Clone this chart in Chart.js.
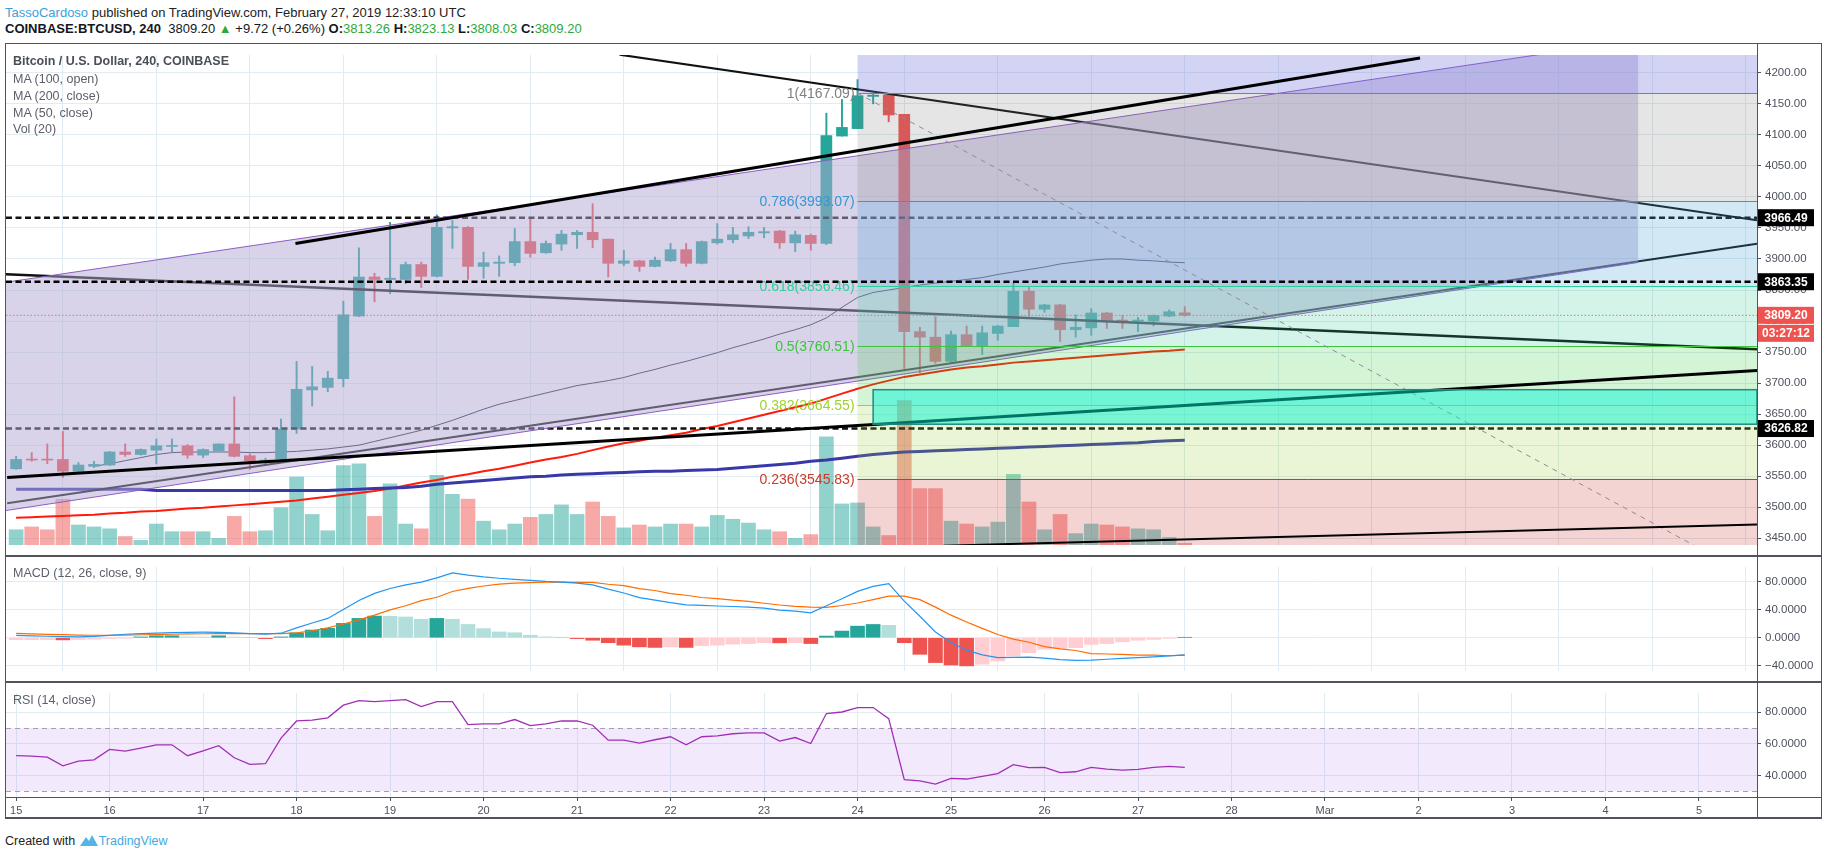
<!DOCTYPE html>
<html>
<head>
<meta charset="utf-8">
<script src="https://cdn.jsdelivr.net/npm/chart.js@4.4.1/dist/chart.umd.min.js"></script>
<style>
  body { margin: 0; background: #fff; width: 1828px; height: 861px; overflow: hidden; position: relative;
         font-family: 'Liberation Sans Narrow', 'Liberation Sans', Arial, sans-serif; color: #131722; }
  canvas { position: absolute; left: 0; }
  .t { position: absolute; white-space: nowrap; }
  .ln { position: absolute; background: #50535e; }
  .g { color: #2fa83a; }
  .b { font-weight: bold; }
  .leg { position: absolute; left: 13px; font-size: 12.5px; color: #5d606b; white-space: nowrap; }
</style>
</head>
<body>
<canvas id="cMain" width="1821" height="512" style="top:44px"></canvas>
<canvas id="cMacd" width="1821" height="126" style="top:556px"></canvas>
<canvas id="cRsi" width="1821" height="136" style="top:682px"></canvas>

<div class="t" style="left:5px;top:5px;font-size:13px;color:#222">
  <span style="color:#3b9fdc">TassoCardoso</span> published on TradingView.com, February 27, 2019 12:33:10 UTC
</div>
<div class="t" style="left:5px;top:21px;font-size:13px;color:#131722">
  <span class="b">COINBASE:BTCUSD, 240</span>&nbsp; 3809.20 <span class="g">&#9650;</span> +9.72 (+0.26%)
  <span class="b">O:</span><span class="g">3813.26</span>&nbsp;<span class="b">H:</span><span class="g">3823.13</span>&nbsp;<span class="b">L:</span><span class="g">3808.03</span>&nbsp;<span class="b">C:</span><span class="g">3809.20</span>
</div>

<div class="leg" style="top:53.5px;font-weight:bold;color:#4a4e59">Bitcoin / U.S. Dollar, 240, COINBASE</div>
<div class="leg" style="top:71.5px">MA (100, open)</div>
<div class="leg" style="top:88.5px">MA (200, close)</div>
<div class="leg" style="top:105.5px">MA (50, close)</div>
<div class="leg" style="top:122px">Vol (20)</div>
<div class="leg" style="top:566px">MACD (12, 26, close, 9)</div>
<div class="leg" style="top:692.5px">RSI (14, close)</div>

<div class="t" style="left:5px;top:834px;font-size:12.5px;color:#222">Created with
  <svg width="20" height="13" viewBox="0 0 20 13" style="vertical-align:-2px"><path d="M1 12 L7 3 L10 7 L13 1 L19 12 Z" fill="#52b6e8"/></svg><span style="color:#3fa9e0">TradingView</span>
</div>

<!-- frame -->
<div class="ln" style="left:5px;top:43px;width:1816px;height:1px"></div>
<div class="ln" style="left:5px;top:43px;width:1px;height:776px"></div>
<div class="ln" style="left:1757px;top:43px;width:1px;height:776px"></div>
<div class="ln" style="left:1821px;top:43px;width:1px;height:776px"></div>
<div class="ln" style="left:5px;top:555px;width:1816px;height:2px"></div>
<div class="ln" style="left:5px;top:681px;width:1816px;height:2px"></div>
<div class="ln" style="left:5px;top:797px;width:1816px;height:1px"></div>
<div class="ln" style="left:5px;top:817px;width:1817px;height:2px"></div>

<script>
// 4h candles, BTCUSD Coinbase, from Feb 15 00:00 UTC (x axis is hours from that moment)
const openP = [3562,3577,3577,3577,3558,3566,3568,3589,3585,3592,3598,3599,3584,3591,3602,3583,3574,3578,3626,3689,
  3693,3707,3808,3871,3867,3867,3891,3872,3950,3951,3888,3893,3894,3928,3910,3924,3939,3943,3932,3893,
  3897,3888,3897,3915,3893,3926,3931,3937,3942,3945,3926,3938,3925,4098,4110,4162,4164,4133,3783,3774,
  3735,3778,3760.5,3780,3791,3848,3819,3826,3786,3789,3813,3801,3800,3800,3808,3813.26];
const highP = [3582,3588,3602,3622,3572,3574,3590,3602,3594,3610,3610,3601,3594,3602,3678,3586,3579,3642,3735,3727,
  3719,3832,3918,3877,3959,3895,3895,3971,3962,3952,3911,3905,3949,3965,3929,3946,3946,3989,3932,3914,
  3898,3903,3925,3925,3929,3957,3951,3952,3951,3946,3945,3940,4135,4157,4189,4165,4165,4133,3790,3807,
  3784,3792,3792,3793,3861,3854,3827,3827,3810,3820,3814,3809,3806,3810,3818,3823.13];
const lowP = [3561,3574,3570,3548,3555,3564,3567,3582,3584,3570,3589,3579,3580,3590,3581,3561,3568,3577,3619,3663,
  3686,3694,3807,3831,3844,3860,3854,3871,3917,3867,3869,3872,3889,3903,3909,3914,3917,3918,3871,3889,
  3880,3887,3896,3888,3892,3924,3926,3933,3934,3917,3912,3914,3923,4098,4110,4150,4121,3723,3717,3732,
  3733,3760,3746,3769,3791,3808,3814,3767,3774,3777,3788,3788,3783,3792,3807,3808.03];
const closeP = [3577,3576,3576,3558,3568,3569,3589,3585,3593,3599,3599.5,3584,3593,3602,3582,3575,3576,3626,3690,3694,
  3708,3810,3871,3867,3869,3891,3872,3951,3952,3888,3894,3895,3928,3909,3925,3940,3943,3931,3893,3897,
  3888,3898,3915,3893,3928,3932,3939,3943,3944,3926,3939,3925,4099,4112,4163,4164,4132,3783,3774,3735,
  3778,3760.5,3781,3792,3848,3819,3826,3786,3790,3813,3801,3800,3801,3809,3815,3809.20];
const volume = [800,950,800,2400,1050,950,850,450,250,1100,700,700,700,350,1500,700,750,1950,3550,1600,
  750,4150,4250,1500,3200,1100,850,3650,2650,2400,1250,800,1100,1450,1600,2100,1600,2250,1500,900,
  1050,950,1100,1100,950,1550,1350,1150,800,700,350,550,5650,2150,2200,950,500,7550,2950,2950,
  1250,1100,950,1200,3700,2250,800,1600,600,1100,1050,950,850,800,400,100];

const ma100open = [null,null,null,null,null,3566,3570,3575,3580,3585,3588,3589,3589,3589,3589,3588,3588,3589,3590,3592,
  3594,3597,3600,3606,3612,3618,3624,3632,3640,3649,3658,3666,3672,3678,3684,3690,3696,3700,3704,3709,
  3716,3722,3729,3735,3742,3749,3757,3764,3771,3779,3786,3794,3805,3822,3838,3846,3850,3854,3858,3861,
  3864,3867,3870,3875,3879,3883,3887,3892,3895,3898,3900,3900,3898,3897,3895,3894];
const ma200close = [3529,3529,3529,3529,3529,3529,3529,3529,3529,3527,3527,3527,3527,3527,3527,3527,3527,3527,3527,3527,
  3527,3528,3529,3530,3531,3532,3534,3537,3539,3541,3543,3545,3547,3549,3550,3552,3553,3554,3555,3556,
  3557,3558,3558,3559,3560,3561,3563,3565,3567,3569,3571,3574,3576,3579,3582,3585,3587,3589,3590,3591,
  3592,3593,3594,3595,3596,3597,3598,3599,3600,3601,3602,3603,3604,3606,3607,3608];
const ma50close = [3483,3484,3485,3486,3487,3488,3490,3491,3493,3494,3496,3498,3499,3501,3503,3505,3507,3509,3511,3514,
  3517,3520,3523,3526,3530,3535,3540,3544,3549,3553,3558,3562,3567,3572,3577,3581,3586,3592,3598,3603,
  3607,3612,3616,3620,3626,3631,3637,3643,3649,3655,3661,3667,3675,3683,3691,3698,3704,3710,3714,3718,
  3722,3725,3727,3730,3733,3735,3737,3739,3741,3743,3745,3747,3749,3751,3752,3754];

const macdLine = [3.5,2.8,2.2,1.5,1.2,2.0,3.5,5.0,6.0,6.7,7.2,7.6,7.9,7.8,7.0,5.8,5.2,6.5,14,21,
  27.5,40,53,63,70,75,79,85,92,89,86.5,84.5,83,81.5,80,79,77.5,75,69,63.6,
  56.9,53.4,49.8,46.7,45.9,45.1,44.4,43.6,42,39.3,37.7,35.3,45.5,55.3,65.9,73,76.9,52,30.6,8.3,
  -6.6,-17.6,-24.2,-28.2,-27.8,-27.4,-29,-30.9,-32.1,-31.7,-30.5,-29.3,-28.2,-27,-25.8,-24.2];
const signalLine = [6.3,5.6,4.9,4.4,3.8,3.6,3.6,3.9,4.3,4.6,5.0,5.4,5.7,5.9,6.0,5.9,5.8,5.8,7.0,10.0,
  14.1,19.6,25.5,32.2,39.6,45.5,52.7,57.5,65.7,70.1,73.5,76.2,77.5,78.2,78.8,78.9,78.7,78.5,76,74.1,
  69.8,67.1,62.7,60.4,57.2,55.6,53.4,51.8,49,46.5,44.6,43.5,43.1,45.8,49.4,54.1,59.2,59,54.1,43.5,
  32.1,22.3,13.3,4.7,-2,-6.3,-12.6,-15.7,-18.1,-22.4,-23,-23.5,-24.7,-24.7,-25.5,-24.7];
const macdHist = [-2.8,-2.7,-2.6,-3.0,-2.5,-2.0,-1.0,-0.3,1.2,2.8,2.9,1.2,1.0,2.8,1.0,0.2,-1.2,1.2,7.0,11.0,
  13.4,20.4,27.5,30.8,30.4,29.5,26.3,27.5,26.3,18.9,13.0,8.3,7.1,3.6,1.2,0.1,-1.2,-3.5,-7.0,-10.5,
  -12.9,-13.7,-12.9,-13.7,-11.3,-10.5,-9.0,-8.2,-7.0,-7.2,-6.9,-8.2,2.4,9.5,16.5,18.9,17.7,-7.0,-23.5,-35.2,
  -38.7,-39.9,-37.5,-32.9,-25.8,-21.1,-16.4,-15.2,-14.0,-9.3,-8.2,-5.8,-3.5,-2.3,-0.3,0.5];
const rsi14 = [52.5,52.2,51.6,46.1,49.1,49.9,56.5,55.4,57.3,59.4,59.4,52.5,55.6,58.8,51.2,47.0,47.4,63.6,74.5,75.0,
  76.5,84.5,87.4,86.8,87.4,88.0,83.6,86.8,86.8,72.2,72.7,72.7,75.4,71.6,72.7,74.5,74.5,71.8,62.3,62.3,
  60.5,62.6,64.5,59.4,64.5,65.1,66.4,67.0,67.0,61.7,64.0,60.2,79.2,80.2,83.0,83.0,76.0,37.3,36.5,34.5,
  38.1,37.7,39.4,41.1,46.8,44.9,45.1,41.7,42.3,45.1,44.0,43.4,43.8,45.1,45.7,45.1];

// candle open times, hours after Feb 15 00:00 (one bar every 4 hours)
const hours = openP.map((_, i) => i * 4);

const dayHours = [0,24,48,72,96,120,144,168,192,216,240,264,288,312,336,360,384,408,432];
const dayLabels = ['15','16','17','18','19','20','21','22','23','24','25','26','27','28','Mar','2','3','4','5'];
const priceTicks = [3450,3500,3550,3600,3650,3700,3750,3800,3850,3900,3950,4000,4050,4100,4150,4200];
const macdTicks = [80,40,0,-40];
const rsiTicks = [80,60,40];

// drawings: [hour, price] end points
const channelUpper = [[-2.6, 3862.5], [416.4, 4253]];
const channelLower = [[-2.6, 3494.7], [416.4, 3894.4]];
const resistanceLine = [[71.7, 3925.1], [360.4, 4223.8]];
const topDescLine = [[154.9, 4229.2], [446.9, 3962.2]];
const leftDescLine = [[-2.6, 3875.2], [446.9, 3754.7]];
const supportLine = [[-2.3, 3547.8], [446.9, 3720.3]];
const parallelLine = [[-2.3, 3506.6], [446.9, 3924.6]];
const bottomLine = [[238, 3438], [446.9, 3472.1]];
const fibTrend = [[216, 4167.09], [455.7, 3353.93]];
const levelsUnder = [3966.49, 3626.82];
const levelsOver = [3863.35];
const lastPrice = 3809.20;
const countdown = '03:27:12';
const fibStartHour = 216;
const fibRatios = [1.618, 1, 0.786, 0.618, 0.5, 0.382, 0.236, 0];
const fibPrices = [4669.6, 4167.09, 3993.07, 3856.46, 3760.51, 3664.55, 3545.83, 3353.93];
const boxHours = [220, 446.9];
const boxPrices = [3633.8, 3689.4];

const xMinHour = -2.6, xMaxHour = 446.9;
const FONT = "'Liberation Sans Narrow', 'Liberation Sans', Arial, sans-serif";
Chart.defaults.font.family = FONT;
Chart.defaults.animation = false;

const upC = '#26a69a', dnC = '#ef5350';
const isUp = closeP.map((c, i) => c >= openP[i]);
const candleCol = isUp.map(u => u ? upC : dnC);
const volCol = isUp.map(u => u ? 'rgba(38,166,154,0.5)' : 'rgba(239,83,80,0.5)');

const zoneFill = ['rgba(110,110,220,0.3)', 'rgba(118,118,118,0.19)', 'rgba(60,160,210,0.23)', 'rgba(40,200,150,0.2)',
  'rgba(40,200,50,0.2)', 'rgba(145,205,40,0.2)', 'rgba(200,35,35,0.2)'];
const fibLineCol = ['#3f51b5', '#808080', '#3796d5', '#2fcf9c', '#3ec43e', '#9ed22e', '#cc3a2a', '#808080'];

function xScale(showLabels) {
  return {
    type: 'linear', min: xMinHour, max: xMaxHour, offset: false,
    afterBuildTicks: s => { s.ticks = dayHours.map(v => ({ value: v })); },
    afterFit: s => { s.height = showLabels ? 21 : 0; },
    grid: { color: '#e1ecf2', drawTicks: showLabels, tickLength: 4, tickColor: '#50535e' },
    border: { display: false },
    ticks: { display: showLabels, autoSkip: false, maxRotation: 0, padding: 3, color: '#4c525e',
      font: { size: 11 }, callback: (v, i) => dayLabels[i] }
  };
}
function yScale(min, max, tickList, fmt) {
  return {
    position: 'right', min, max,
    afterBuildTicks: s => { s.ticks = tickList.map(v => ({ value: v })); },
    afterFit: s => { s.width = 64; },
    grid: { color: '#e1ecf2', tickLength: 4, tickColor: '#50535e' },
    border: { display: false },
    ticks: { color: '#4c525e', padding: 4, font: { size: 11.5 }, callback: fmt }
  };
}
const pts = arr => arr.map((v, i) => ({ x: hours[i], y: v }));
function seg(p, color, width, order, dash) {
  return { type: 'line', data: p.map(q => ({ x: q[0], y: q[1] })), borderColor: color, borderWidth: width,
    borderDash: dash || [], pointRadius: 0, order, yAxisID: 'y', tension: 0 };
}
const flat = (v, color, width, order, dash) => seg([[xMinHour, v], [xMaxHour, v]], color, width, order, dash);
const common = { responsive: false, events: [], layout: { padding: { left: 6, right: 0, top: 0, bottom: 0 } },
  plugins: { legend: { display: false }, tooltip: { enabled: false } } };

// draws the channel fill, fib zones and lines right after the dataset flagged with zonesAfter
const drawingsPlugin = {
  id: 'drawings',
  afterDatasetDraw(chart, args) {
    if (!chart.data.datasets[args.index].zonesAfter) return;
    const { ctx, chartArea: a, scales: { x, y } } = chart;
    const P = q => [x.getPixelForValue(q[0]), y.getPixelForValue(q[1])];
    ctx.save();
    ctx.beginPath(); ctx.rect(a.left, a.top, a.right - a.left, a.bottom - a.top); ctx.clip();
    // parallel channel
    const u0 = P(channelUpper[0]), u1 = P(channelUpper[1]), l0 = P(channelLower[0]), l1 = P(channelLower[1]);
    ctx.fillStyle = 'rgba(177,167,211,0.5)';
    ctx.beginPath(); ctx.moveTo(...u0); ctx.lineTo(...u1); ctx.lineTo(...l1); ctx.lineTo(...l0); ctx.closePath(); ctx.fill();
    ctx.strokeStyle = '#8e5cc4'; ctx.lineWidth = 1;
    ctx.beginPath(); ctx.moveTo(...u0); ctx.lineTo(...u1); ctx.moveTo(...l0); ctx.lineTo(...l1); ctx.stroke();
    // fib retracement
    const fx0 = x.getPixelForValue(fibStartHour), fx1 = a.right;
    for (let k = 0; k < fibPrices.length - 1; k++) {
      const ya = y.getPixelForValue(fibPrices[k]), yb = y.getPixelForValue(fibPrices[k + 1]);
      ctx.fillStyle = zoneFill[k];
      ctx.fillRect(fx0, ya, fx1 - fx0, yb - ya);
    }
    ctx.font = '14px ' + FONT; ctx.textAlign = 'right'; ctx.textBaseline = 'middle';
    for (let k = 1; k < fibPrices.length; k++) {
      const yy = Math.round(y.getPixelForValue(fibPrices[k])) + 0.5;
      ctx.strokeStyle = fibLineCol[k]; ctx.lineWidth = 1;
      ctx.beginPath(); ctx.moveTo(fx0, yy); ctx.lineTo(fx1, yy); ctx.stroke();
      ctx.fillStyle = fibLineCol[k];
      ctx.fillText(fibRatios[k] + '(' + fibPrices[k].toFixed(2) + ')', fx0 - 3, yy + 0.5);
    }
    ctx.restore();
  },
  afterDatasetsDraw(chart) {
    const { ctx, chartArea: a, scales: { x, y } } = chart;
    const bx0 = x.getPixelForValue(boxHours[0]), bx1 = x.getPixelForValue(boxHours[1]);
    const by0 = y.getPixelForValue(boxPrices[1]), by1 = y.getPixelForValue(boxPrices[0]);
    ctx.save();
    ctx.beginPath(); ctx.rect(a.left, a.top, a.right - a.left, a.bottom - a.top); ctx.clip();
    ctx.fillStyle = 'rgba(0,245,212,0.48)';
    ctx.fillRect(bx0, by0, bx1 - bx0, by1 - by0);
    ctx.strokeStyle = '#1d8a84'; ctx.lineWidth = 1.5;
    ctx.strokeRect(bx0, by0, bx1 - bx0, by1 - by0);
    ctx.restore();
  },
  afterDraw(chart) {
    const { ctx, chartArea: a, scales: { y } } = chart;
    ctx.save();
    ctx.font = 'bold 12px ' + FONT; ctx.textAlign = 'center'; ctx.textBaseline = 'middle';
    const tag = (v, bg, text, dy) => {
      const yy = y.getPixelForValue(v) + (dy || 0);
      ctx.fillStyle = bg; ctx.fillRect(a.right + 1, yy - 8.5, 56, 17);
      ctx.fillStyle = '#fff'; ctx.fillText(text, a.right + 29, yy + 0.5);
    };
    levelsUnder.concat(levelsOver).forEach(v => tag(v, '#000', v.toFixed(2)));
    tag(lastPrice, '#ef5350', lastPrice.toFixed(2));
    tag(lastPrice, '#ef5350', countdown, 18);
    ctx.restore();
  }
};

new Chart(document.getElementById('cMain'), {
  type: 'bar',
  data: {
    datasets: [
      { data: pts(volume), yAxisID: 'yv', backgroundColor: volCol, barThickness: 14, grouped: false, order: 20 },
      { type: 'line', data: pts(ma200close), borderColor: '#3838a8', borderWidth: 3, pointRadius: 0, yAxisID: 'y', order: 16 },
      { type: 'line', data: pts(ma50close), borderColor: '#ff1a0a', borderWidth: 2, pointRadius: 0, yAxisID: 'y', order: 16 },
      { type: 'line', data: pts(ma100open), borderColor: '#2a2a3c', borderWidth: 1, pointRadius: 0, yAxisID: 'y', order: 16 },
      { data: lowP.map((l, i) => ({ x: hours[i], y: [l, highP[i]] })), yAxisID: 'y', backgroundColor: candleCol,
        barThickness: 1.3, grouped: false, order: 13 },
      { data: openP.map((o, i) => ({ x: hours[i], y: [Math.min(o, closeP[i]), Math.max(o, closeP[i])] })), yAxisID: 'y',
        backgroundColor: candleCol, barThickness: 11, minBarLength: 1, grouped: false, order: 12 },
      flat(levelsUnder[0], '#111', 2.5, 10, [6, 3.5]),
      flat(levelsUnder[1], '#111', 2.5, 10, [6, 3.5]),
      seg(topDescLine, '#111', 2, 10),
      seg(leftDescLine, '#111', 2.5, 10),
      seg(parallelLine, '#111', 2, 10),
      { type: 'line', data: [{ x: xMinHour - 50, y: 3500 }], borderColor: 'transparent', pointRadius: 0, yAxisID: 'y',
        order: 8, zonesAfter: true },
      seg(fibTrend, '#8a8d96', 1, 6, [5, 5]),
      seg(resistanceLine, '#000', 3, 5),
      seg(supportLine, '#000', 3, 5),
      seg(bottomLine, '#000', 2, 5),
      flat(levelsOver[0], '#000', 2.5, 5, [6, 3.5]),
      flat(lastPrice, '#e57373', 1, 4, [1.5, 2])
    ]
  },
  options: Object.assign({}, common, {
    scales: {
      x: xScale(false),
      y: yScale(3439, 4228.8, priceTicks, v => v.toFixed(2)),
      yv: { display: false, min: 0, max: 25600 }
    }
  }),
  plugins: [drawingsPlugin]
});

const histCol = macdHist.map((v, i) => {
  const prev = i > 0 ? macdHist[i - 1] : v;
  if (v >= 0) return v >= prev ? '#26a69a' : '#b2dfdb';
  return v < prev ? '#ef5350' : '#ffcdd2';
});
new Chart(document.getElementById('cMacd'), {
  type: 'bar',
  data: {
    datasets: [
      { data: pts(macdHist), backgroundColor: histCol, barThickness: 14, grouped: false, order: 3 },
      { type: 'line', data: pts(signalLine), borderColor: '#ff6d00', borderWidth: 1.2, pointRadius: 0, order: 2 },
      { type: 'line', data: pts(macdLine), borderColor: '#2196f3', borderWidth: 1.2, pointRadius: 0, order: 1 }
    ]
  },
  options: Object.assign({}, common, {
    scales: { x: xScale(false), y: yScale(-47.3, 100.6, macdTicks, v => v.toFixed(4).replace('-', '\u2212')) }
  })
});

const rsiBand = {
  id: 'rsiBand',
  beforeDatasetsDraw(chart) {
    const { ctx, chartArea: a, scales: { y } } = chart;
    const y70 = y.getPixelForValue(70), y30 = y.getPixelForValue(30);
    ctx.save();
    ctx.fillStyle = 'rgba(156,90,235,0.13)';
    ctx.fillRect(a.left, y70, a.right - a.left, y30 - y70);
    ctx.strokeStyle = '#aa9cb8'; ctx.lineWidth = 1; ctx.setLineDash([5, 4]);
    [y70, y30].forEach(yy => { ctx.beginPath(); ctx.moveTo(a.left, Math.round(yy) + 0.5); ctx.lineTo(a.right, Math.round(yy) + 0.5); ctx.stroke(); });
    ctx.restore();
  }
};
new Chart(document.getElementById('cRsi'), {
  type: 'line',
  data: { datasets: [{ data: pts(rsi14), borderColor: '#a02fb5', borderWidth: 1.3, pointRadius: 0, tension: 0 }] },
  options: Object.assign({}, common, {
    scales: { x: xScale(true), y: yScale(26.3, 92.3, rsiTicks, v => v.toFixed(4)) }
  }),
  plugins: [rsiBand]
});
</script>
</body>
</html>
